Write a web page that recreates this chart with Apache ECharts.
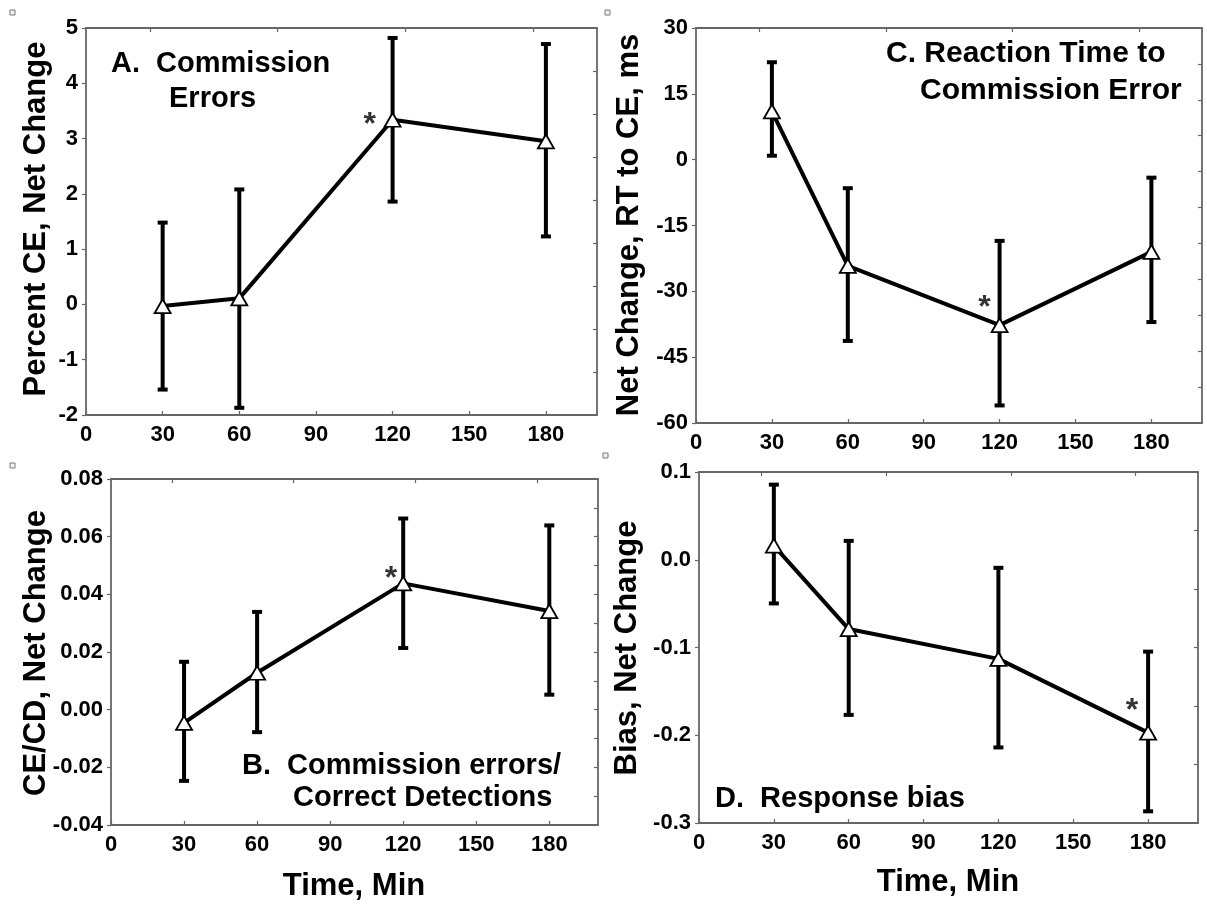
<!DOCTYPE html>
<html>
<head>
<meta charset="utf-8">
<script src="https://cdn.jsdelivr.net/npm/echarts@6/dist/echarts.min.js"></script>
<style>
  html, body { margin: 0; padding: 0; background: #fff; }
  #chart { width: 1207px; height: 904px; }
</style>
</head>
<body>
<div id="chart"></div>
<script>
  // time points (min)
  const times = [30, 60, 120, 180]

  // A. commission errors, percent
  const ceMean = [-0.03, 0.11, 3.34, 2.95]
  const ceLow = [-1.54, -1.87, 1.86, 1.23]
  const ceHigh = [1.48, 2.08, 4.82, 4.71]

  // C. RT to commission error, ms
  const rtMean = [11.0, -24.2, -37.7, -21.0]
  const rtLow = [0.9, -41.3, -56.0, -37.0]
  const rtHigh = [22.2, -6.5, -18.5, -4.1]

  // B. CE / CD ratio
  const ratioMean = [-0.0046, 0.0128, 0.0438, 0.0342]
  const ratioLow = [-0.0247, -0.0078, 0.0214, 0.0052]
  const ratioHigh = [0.0166, 0.0339, 0.0663, 0.0639]

  // D. response bias
  const biasMean = [0.016, -0.079, -0.113, -0.197]
  const biasLow = [-0.0498, -0.1768, -0.2139, -0.2867]
  const biasHigh = [0.0856, 0.0215, -0.0092, -0.1047]

  // significance stars [x, y]
  const starA = [111, 3.39]
  const starC = [114, -32]
  const starB = [115, 0.048]
  const starD = [173.5, -0.163]

  const FONT = "'Liberation Sans', Arial, sans-serif"
  const AXIS_COLOR = '#666'

  const chart = echarts.init(document.getElementById('chart'))

  const panels = [
    { grid: { left: 86, top: 28, width: 511, height: 387 }, min: -2, max: 5, interval: 1, dec: 0, rightDiv: 9,
      mean: ceMean, low: ceLow, high: ceHigh, star: starA },
    { grid: { left: 696, top: 28, width: 506, height: 395 }, min: -60, max: 30, interval: 15, dec: 0, rightDiv: 11,
      mean: rtMean, low: rtLow, high: rtHigh, star: starC },
    { grid: { left: 111, top: 479, width: 487, height: 346 }, min: -0.04, max: 0.08, interval: 0.02, dec: 2, rightDiv: 12,
      mean: ratioMean, low: ratioLow, high: ratioHigh, star: starB },
    { grid: { left: 699, top: 472, width: 499, height: 351 }, min: -0.3, max: 0.1, interval: 0.1, dec: 1, rightDiv: 6,
      mean: biasMean, low: biasLow, high: biasHigh, star: starD }
  ]

  const grid = []
  const xAxis = []
  const yAxis = []
  const series = []

  const lineStyle = { color: AXIS_COLOR, width: 1.8 }
  const tickStyle = { color: AXIS_COLOR, width: 1.2 }

  panels.forEach(function(p, i) {
    grid.push(p.grid)
    // bottom axis
    xAxis.push({
      type: 'value', gridIndex: i, min: 0, max: 200, interval: 30, position: 'bottom',
      axisLine: { onZero: false, lineStyle: lineStyle },
      axisTick: { inside: true, length: 4, lineStyle: tickStyle },
      axisLabel: { margin: 9, showMaxLabel: false, color: '#000', fontSize: 22, fontWeight: 'bold', fontFamily: FONT },
      splitLine: { show: false }
    })
    // top frame
    xAxis.push({
      type: 'value', gridIndex: i, min: 0, max: 200, position: 'top',
      axisLine: { onZero: false, lineStyle: lineStyle },
      axisTick: { inside: true, length: 4, customValues: [25, 75, 125, 175], lineStyle: tickStyle },
      axisLabel: { show: false },
      splitLine: { show: false }
    })
    yAxis.push({
      type: 'value', gridIndex: i, min: p.min, max: p.max, interval: p.interval, position: 'left',
      axisLine: { show: true, onZero: false, lineStyle: lineStyle },
      axisTick: { show: true, length: 4, lineStyle: tickStyle },
      axisLabel: {
        margin: 8, color: '#000', fontSize: 22, fontWeight: 'bold', fontFamily: FONT,
        formatter: function(v) { return (Math.abs(v) < 1e-9 ? 0 : v).toFixed(p.dec) }
      },
      splitLine: { show: false }
    })
    const rightTicks = []
    for (let k = 1; k < p.rightDiv; k++) rightTicks.push(k)
    yAxis.push({
      type: 'value', gridIndex: i, min: 0, max: p.rightDiv, position: 'right',
      axisLine: { show: true, onZero: false, lineStyle: lineStyle },
      axisTick: { show: true, inside: true, length: 4, customValues: rightTicks, lineStyle: tickStyle },
      axisLabel: { show: false },
      splitLine: { show: false }
    })

    const xi = i * 2
    const yi = i * 2
    const barData = times.map(function(t, k) { return [t, p.low[k], p.high[k]] })
    series.push({
      type: 'custom', xAxisIndex: xi, yAxisIndex: yi, z: 2,
      data: barData,
      encode: { x: 0, y: [1, 2] },
      renderItem: function(params, api) {
        const top = api.coord([api.value(0), api.value(2)])
        const bot = api.coord([api.value(0), api.value(1)])
        const hw = 5
        const st = { stroke: '#000', lineWidth: 4 }
        return {
          type: 'group',
          children: [
            { type: 'line', shape: { x1: top[0], y1: top[1], x2: bot[0], y2: bot[1] }, style: st },
            { type: 'line', shape: { x1: top[0] - hw, y1: top[1], x2: top[0] + hw, y2: top[1] }, style: st },
            { type: 'line', shape: { x1: bot[0] - hw, y1: bot[1], x2: bot[0] + hw, y2: bot[1] }, style: st }
          ]
        }
      }
    })
    series.push({
      type: 'line', xAxisIndex: xi, yAxisIndex: yi, z: 3,
      data: times.map(function(t, k) { return [t, p.mean[k]] }),
      lineStyle: { color: '#000', width: 4 },
      symbol: 'triangle', symbolSize: [16, 14], showAllSymbol: true,
      itemStyle: { color: '#fff', borderColor: '#000', borderWidth: 1.8 },
      animation: false
    })
    series.push({
      type: 'scatter', xAxisIndex: xi, yAxisIndex: yi, z: 4,
      data: [p.star], symbolSize: 0,
      label: {
        show: true, position: 'inside', formatter: '*', offset: [0, 8],
        color: '#000', textBorderWidth: 0, fontSize: 32, fontWeight: 'bold', fontFamily: FONT
      },
      silent: true
    })
  })

  function txt(x, y, text, size, align) {
    return {
      type: 'text', x: x, y: y,
      style: {
        text: text, fill: '#000', fontSize: size, fontWeight: 'bold', fontFamily: FONT,
        align: align || 'left', verticalAlign: 'middle'
      }
    }
  }
  function vtxt(x, y, text) {
    return {
      type: 'text', x: x, y: y, rotation: Math.PI / 2,
      style: {
        text: text, fill: '#000', fontSize: 31, fontWeight: 'bold', fontFamily: FONT,
        align: 'center', verticalAlign: 'middle'
      }
    }
  }
  function box(x, y) {
    return { type: 'rect', shape: { x: x, y: y, width: 5, height: 5 }, style: { fill: '#f2f2f2', stroke: '#777', lineWidth: 1 } }
  }

  const graphic = [
    box(10, 10), box(605, 10), box(10, 463), box(603, 453),
    // axis titles
    vtxt(36, 219, 'Percent CE, Net Change'),
    vtxt(629, 225, 'Net Change, RT to CE, ms'),
    vtxt(36, 653, 'CE/CD, Net Change'),
    vtxt(627, 648, 'Bias, Net Change'),
    txt(354, 886, 'Time, Min', 31, 'center'),
    txt(948, 882, 'Time, Min', 31, 'center'),
    // panel titles
    txt(111, 64, 'A.  Commission', 29),
    txt(169, 99, 'Errors', 29),
    txt(886, 54, 'C. Reaction Time to', 30),
    txt(920, 91, 'Commission Error', 30),
    txt(242, 766, 'B.  Commission errors/', 29),
    txt(293, 798, 'Correct Detections', 29),
    txt(715, 799, 'D.  Response bias', 29)
  ]

  chart.setOption({
    animation: false,
    backgroundColor: '#fff',
    grid: grid,
    xAxis: xAxis,
    yAxis: yAxis,
    series: series,
    graphic: graphic
  })

  window.addEventListener('resize', function() { chart.resize() })
</script>
</body>
</html>
